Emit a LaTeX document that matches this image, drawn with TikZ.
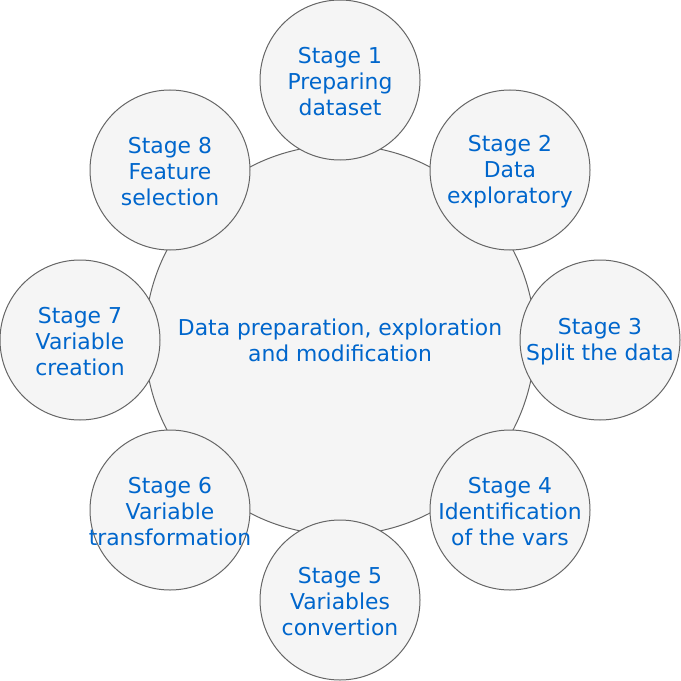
\documentclass[tikz,border=0pt]{standalone}
\usepackage{fontspec}
\setmainfont{DejaVu Sans}
\definecolor{txt}{HTML}{0066CC}
\definecolor{fillc}{HTML}{F5F5F5}
\definecolor{linec}{HTML}{666666}
\begin{document}
\begin{tikzpicture}[x=0.75pt,y=-0.75pt,
  circbox/.style={circle,draw=linec,fill=fillc,line width=0.75pt,inner sep=0pt},
  stagebox/.style={circbox,minimum size=120pt},
  hubbox/.style={circbox,minimum size=292.5pt},
  txtbox/.style={text=txt,font=\fontsize{16.4pt}{19.5pt}\selectfont,align=center,inner sep=0pt}]
\useasboundingbox (0,0) rectangle (681,681);
\node[hubbox] (hub) at (340,340) {};
\node[txtbox] (hubt) at (hub.center) {Data preparation, exploration\\and modification};
\foreach \n/\x/\y/\t in {
  s1/340/80/{Stage 1\\Preparing\\dataset},
  s2/510/170/{Stage 2\\Data\\exploratory},
  s3/600/340/{Stage 3\\Split the data},
  s4/510/510/{Stage 4\\Identification\\of the vars},
  s5/340/600/{Stage 5\\Variables\\convertion},
  s6/170/510/{Stage 6\\Variable\\transformation},
  s7/80/340/{Stage 7\\Variable\\creation},
  s8/170/170/{Stage 8\\Feature\\selection}}{
  \node[stagebox] (\n) at (\x,\y) {};
  \node[txtbox] (\n t) at ([yshift=-1pt]\n.center) {\t};
}
\end{tikzpicture}
\end{document}
